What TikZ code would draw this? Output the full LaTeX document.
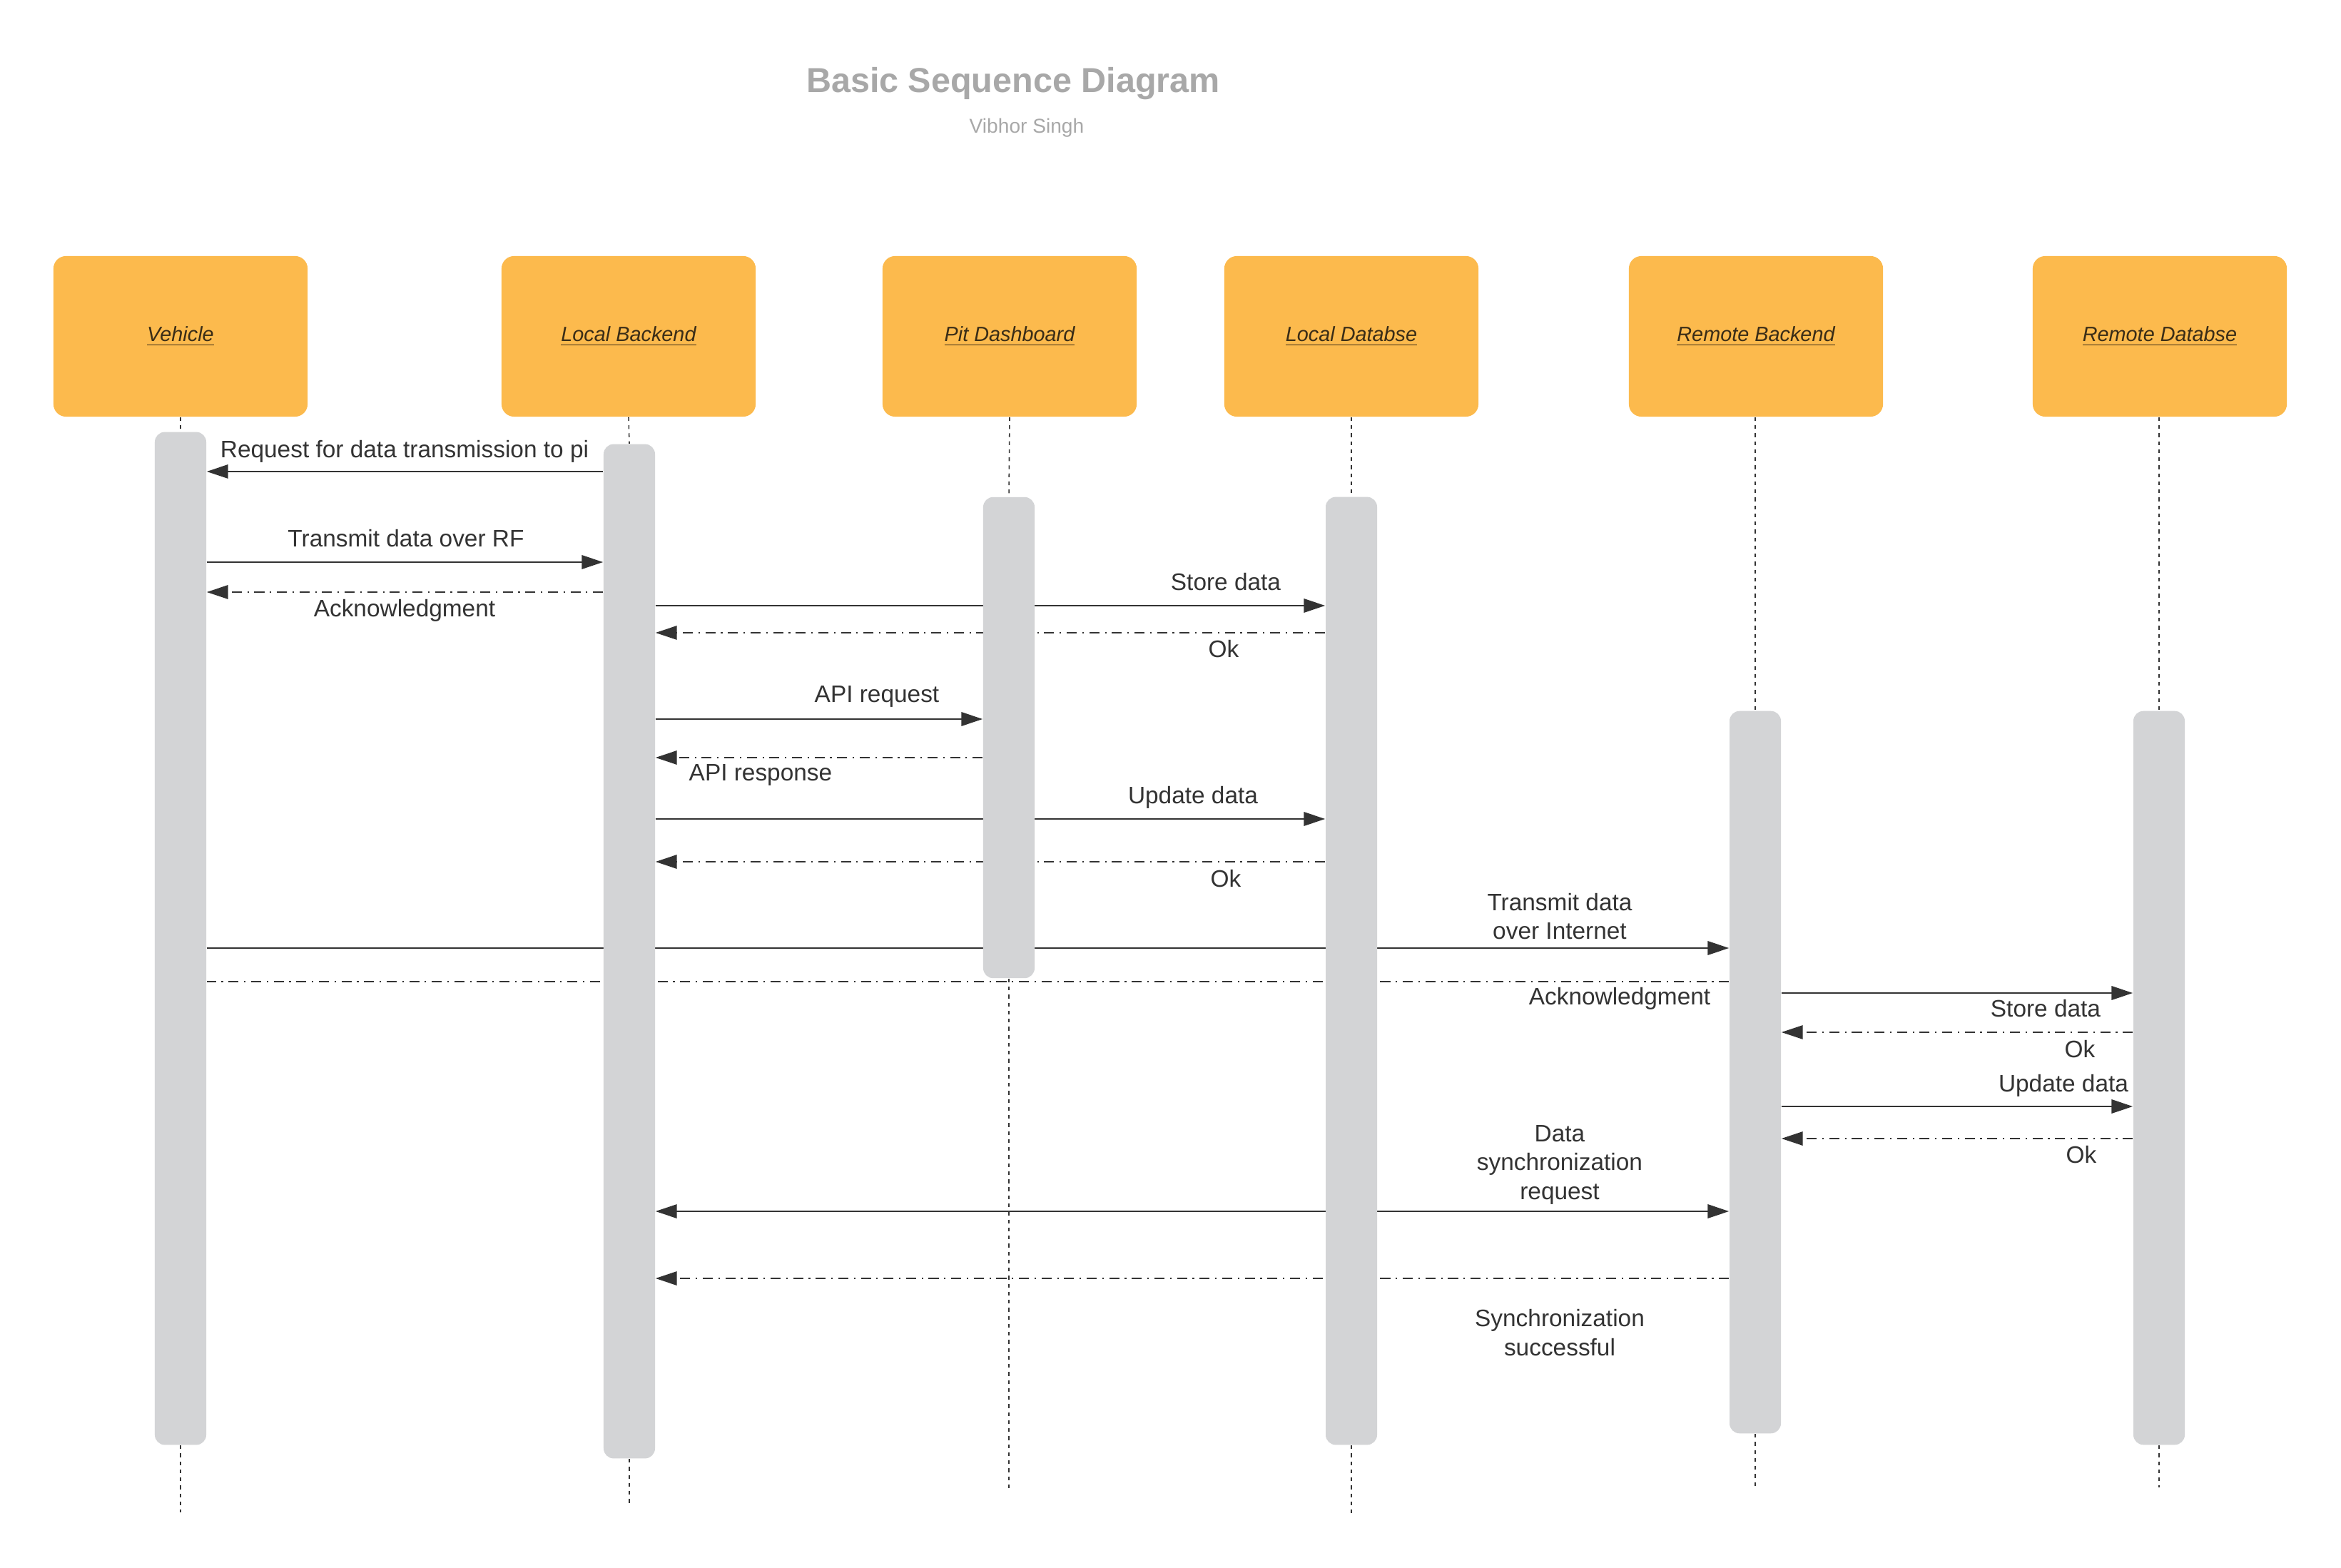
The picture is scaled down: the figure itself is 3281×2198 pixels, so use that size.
\documentclass[tikz,border=0pt]{standalone}
\usepackage{fontspec}
\setmainfont{Liberation Sans}
\usetikzlibrary{arrows.meta,backgrounds}
\definecolor{headfill}{HTML}{FCBA4D}
\definecolor{barfill}{HTML}{D3D4D6}
\definecolor{ink}{HTML}{333333}
\definecolor{headink}{HTML}{3A2D17}
\definecolor{titlegray}{HTML}{A8A8A8}

\begin{document}
\begin{tikzpicture}[x=0.01cm,y=-0.01cm,
  seqtip/.tip={Triangle[length=8.5pt,width=5.5pt]},
  actor/.style={fill=headfill, rounded corners=5pt, minimum width=3.56cm,
    minimum height=2.25cm, inner sep=0pt, text=headink,
    font=\fontsize{8.2}{10}\selectfont\itshape},
  actbar/.style={fill=barfill, rounded corners=4pt, minimum width=0.72cm, inner sep=0pt},
  life/.style={draw=ink, line width=0.45pt, dash pattern=on 1.5pt off 1.7pt},
  msg/.style={draw=ink, line width=0.6pt, -seqtip},
  reply/.style={msg, dash pattern=on 4pt off 2.2pt on 0.6pt off 2.2pt},
  lbl/.style={text=ink, font=\fontsize{9.5}{11.4}\selectfont, inner sep=0pt,
    anchor=base, align=center},
]
\useasboundingbox (0,0) rectangle (3281,2198);

% title block
\node[text=titlegray, font=\fontsize{13.8}{16}\selectfont\bfseries, anchor=base, inner sep=0pt]
  (title) at (1420,130) {Basic Sequence Diagram};
\node[text=titlegray, font=\fontsize{8}{10}\selectfont, anchor=base, inner sep=0pt]
  (author) at (1439,187) {Vibhor Singh};

% participants
\node[actor] (veh) at (253,471.5)  {\underline{Vehicle}};
\node[actor] (lb)  at (881,471.5)  {\underline{Local Backend}};
\node[actor] (pit) at (1415,471.5) {\underline{Pit Dashboard}};
\node[actor] (ldb) at (1894,471.5) {\underline{Local Databse}};
\node[actor] (rb)  at (2461,471.5) {\underline{Remote Backend}};
\node[actor] (rdb) at (3027,471.5) {\underline{Remote Databse}};

% activation bars
\node[actbar, minimum height=14.19cm] (vbar)   at (253,1315.5) {};
\node[actbar, minimum height=14.21cm] (lbbar)  at (882,1333.5) {};
\node[actbar, minimum height=6.74cm]  (pbar)   at (1414,1034)  {};
\node[actbar, minimum height=13.28cm] (ldbbar) at (1894,1361)  {};
\node[actbar, minimum height=10.12cm] (rbbar)  at (2460,1503)  {};
\node[actbar, minimum height=10.28cm] (rdbbar) at (3026,1511)  {};

% lifeline ends
\coordinate (vend)   at (253,2120);
\coordinate (lbend)  at (882,2110);
\coordinate (pend)   at (1414,2086);
\coordinate (ldbend) at (1894,2122);
\coordinate (rbend)  at (2460,2085);
\coordinate (rdbend) at (3026,2085);

\begin{scope}[on background layer]
  % page
  \fill[white] (0,0) rectangle (3281,2198);

  % lifelines
  \draw[life] (veh.south) -- (vbar.north);
  \draw[life] (vbar.south) -- (vend);
  \draw[life] (lb.south) -- (lbbar.north);
  \draw[life] (lbbar.south) -- (lbend);
  \draw[life] (pit.south) -- (pbar.north);
  \draw[life] (pbar.south) -- (pend);
  \draw[life] (ldb.south) -- (ldbbar.north);
  \draw[life] (ldbbar.south) -- (ldbend);
  \draw[life] (rb.south -| rbbar.north) -- (rbbar.north);
  \draw[life] (rbbar.south) -- (rbend);
  \draw[life] (rdb.south -| rdbbar.north) -- (rdbbar.north);
  \draw[life] (rdbbar.south) -- (rdbend);

  % messages
  \draw[msg]   (lbbar.west |- 0,661)   -- (vbar.east |- 0,661);
  \draw[msg]   (vbar.east |- 0,788)    -- (lbbar.west |- 0,788);
  \draw[reply] (lbbar.west |- 0,830)   -- (vbar.east |- 0,830);
  \draw[msg]   (lbbar.east |- 0,849)   -- (ldbbar.west |- 0,849);
  \draw[reply] (ldbbar.west |- 0,887)  -- (lbbar.east |- 0,887);
  \draw[msg]   (lbbar.east |- 0,1008)  -- (pbar.west |- 0,1008);
  \draw[reply] (pbar.west |- 0,1062)   -- (lbbar.east |- 0,1062);
  \draw[msg]   (lbbar.east |- 0,1148)  -- (ldbbar.west |- 0,1148);
  \draw[reply] (ldbbar.west |- 0,1208) -- (lbbar.east |- 0,1208);
  \draw[msg]   (vbar.east |- 0,1329)   -- (rbbar.west |- 0,1329);
  \draw[reply, -] (rbbar.west |- 0,1376) -- (vbar.east |- 0,1376);
  \draw[msg]   (rbbar.east |- 0,1392)  -- (rdbbar.west |- 0,1392);
  \draw[reply] (rdbbar.west |- 0,1447) -- (rbbar.east |- 0,1447);
  \draw[msg]   (rbbar.east |- 0,1551)  -- (rdbbar.west |- 0,1551);
  \draw[reply] (rdbbar.west |- 0,1596) -- (rbbar.east |- 0,1596);
  \draw[msg, seqtip-seqtip] (lbbar.east |- 0,1698) -- (rbbar.west |- 0,1698);
  \draw[reply] (rbbar.west |- 0,1792)  -- (lbbar.east |- 0,1792);
\end{scope}

% message labels
\node[lbl] (mreq)   at (567,642)   {Request for data transmission to pi};
\node[lbl] (mrf)    at (569,767)   {Transmit data over RF};
\node[lbl] (mack)   at (567,865)   {Acknowledgment};
\node[lbl] (mstore) at (1718,828)  {Store data};
\node[lbl] (mok)    at (1715,922)  {Ok};
\node[lbl] (mapiq)  at (1229,985)  {API request};
\node[lbl] (mapir)  at (1066,1095) {API response};
\node[lbl] (mupd)   at (1672,1127) {Update data};
\node[lbl] (mokb)   at (1718,1243) {Ok};
\node[lbl] (minet)  at (2186,1317) {Transmit data\\over Internet};
\node[lbl] (mackb)  at (2270,1408) {Acknowledgment};
\node[lbl] (rstore) at (2867,1425) {Store data};
\node[lbl] (rok)    at (2915,1482) {Ok};
\node[lbl] (rupd)   at (2892,1530) {Update data};
\node[lbl] (rokb)   at (2917,1630) {Ok};
\node[lbl] (msync)  at (2186,1681) {Data\\synchronization\\request};
\node[lbl] (mdone)  at (2186,1900) {Synchronization\\successful};
\end{tikzpicture}
\end{document}
